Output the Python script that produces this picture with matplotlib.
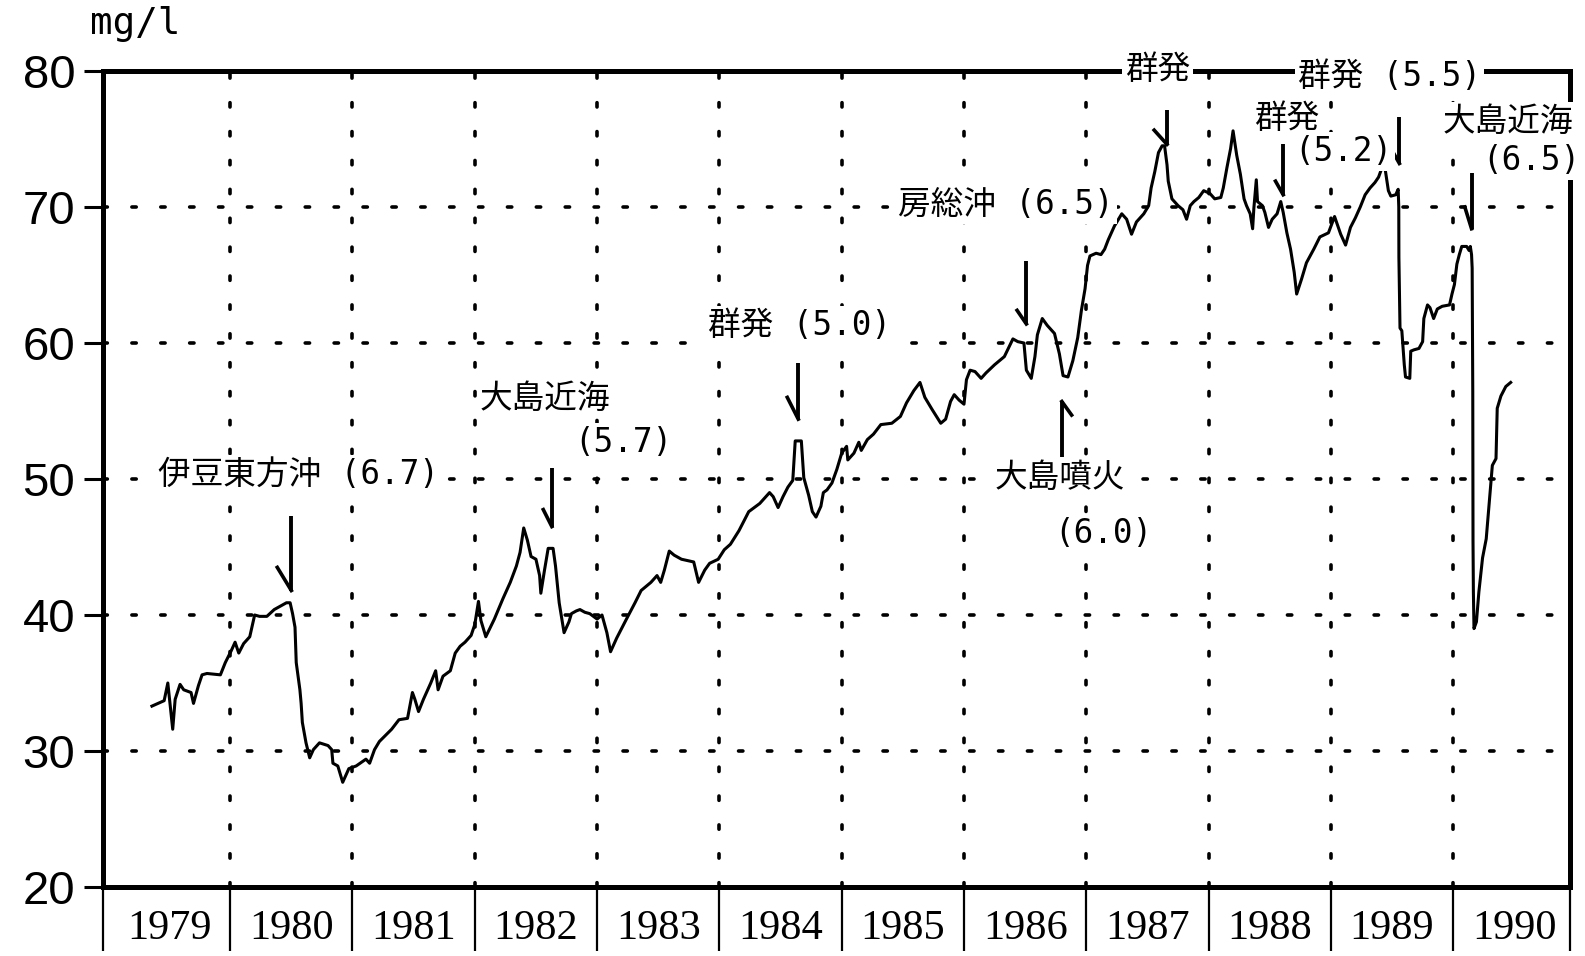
import matplotlib
matplotlib.use('Agg')
import matplotlib.pyplot as plt

# concentration record: decimal year, mg/l
t = [1979.36, 1979.46, 1979.49, 1979.51, 1979.53, 1979.55, 1979.59, 1979.62, 1979.68, 1979.70,
     1979.74, 1979.77, 1979.81, 1979.92, 1979.96, 1980.01, 1980.04, 1980.07, 1980.11, 1980.16,
     1980.20, 1980.24, 1980.30, 1980.36, 1980.46, 1980.49, 1980.51, 1980.53, 1980.54, 1980.57,
     1980.58, 1980.59, 1980.62, 1980.65, 1980.68, 1980.73, 1980.80, 1980.83, 1980.84, 1980.88,
     1980.92, 1980.97, 1981.03, 1981.11, 1981.14, 1981.18, 1981.22, 1981.32, 1981.38, 1981.45,
     1981.49, 1981.51, 1981.54, 1981.58, 1981.64, 1981.68, 1981.70, 1981.74, 1981.80, 1981.84,
     1981.88, 1981.92, 1981.97, 1982.00, 1982.03, 1982.05, 1982.09, 1982.16, 1982.23, 1982.29,
     1982.34, 1982.37, 1982.40, 1982.43, 1982.46, 1982.50, 1982.53, 1982.54, 1982.57, 1982.60,
     1982.64, 1982.66, 1982.69, 1982.73, 1982.77, 1982.79, 1982.83, 1982.86, 1982.90, 1982.94,
     1983.00, 1983.04, 1983.08, 1983.11, 1983.16, 1983.24, 1983.31, 1983.36, 1983.44, 1983.49,
     1983.52, 1983.55, 1983.59, 1983.63, 1983.69, 1983.79, 1983.83, 1983.88, 1983.92, 1983.99,
     1984.04, 1984.09, 1984.16, 1984.24, 1984.33, 1984.41, 1984.44, 1984.48, 1984.52, 1984.56,
     1984.60, 1984.62, 1984.67, 1984.69, 1984.73, 1984.76, 1984.79, 1984.83, 1984.85, 1984.88,
     1984.92, 1984.96, 1985.00, 1985.04, 1985.05, 1985.10, 1985.14, 1985.16, 1985.21, 1985.26,
     1985.32, 1985.41, 1985.48, 1985.53, 1985.59, 1985.64, 1985.68, 1985.74, 1985.81, 1985.85,
     1985.89, 1985.92, 1985.96, 1986.00, 1986.02, 1986.05, 1986.09, 1986.14, 1986.18, 1986.25,
     1986.33, 1986.40, 1986.44, 1986.49, 1986.51, 1986.55, 1986.58, 1986.60, 1986.64, 1986.68,
     1986.74, 1986.78, 1986.81, 1986.85, 1986.89, 1986.93, 1986.96, 1986.99, 1987.01, 1987.03,
     1987.08, 1987.12, 1987.15, 1987.18, 1987.23, 1987.29, 1987.33, 1987.37, 1987.41, 1987.47,
     1987.51, 1987.53, 1987.56, 1987.59, 1987.62, 1987.64, 1987.66, 1987.67, 1987.70, 1987.75,
     1987.79, 1987.82, 1987.85, 1987.88, 1987.92, 1987.96, 1988.01, 1988.05, 1988.10, 1988.12,
     1988.15, 1988.18, 1988.20, 1988.23, 1988.26, 1988.29, 1988.31, 1988.34, 1988.36, 1988.37,
     1988.39, 1988.40, 1988.44, 1988.46, 1988.49, 1988.52, 1988.56, 1988.59, 1988.61, 1988.64,
     1988.67, 1988.70, 1988.72, 1988.76, 1988.80, 1988.86, 1988.91, 1988.98, 1989.03, 1989.08,
     1989.12, 1989.16, 1989.20, 1989.24, 1989.28, 1989.32, 1989.36, 1989.39, 1989.41, 1989.43,
     1989.44, 1989.45, 1989.47, 1989.49, 1989.53, 1989.55, 1989.555, 1989.556, 1989.565, 1989.58,
     1989.60, 1989.61, 1989.645, 1989.653, 1989.68, 1989.72, 1989.75, 1989.76, 1989.79, 1989.81,
     1989.84, 1989.87, 1989.91, 1989.97, 1989.99, 1990.01, 1990.03, 1990.05, 1990.07, 1990.11,
     1990.13, 1990.14, 1990.15, 1990.155, 1990.16, 1990.162, 1990.165, 1990.17, 1990.19, 1990.21,
     1990.24, 1990.27, 1990.29, 1990.32, 1990.35, 1990.36, 1990.39, 1990.43, 1990.47]
conc = [33.3, 33.7, 35.0, 33.3, 31.6, 33.8, 34.9, 34.5, 34.3, 33.5,
        34.8, 35.6, 35.7, 35.6, 36.5, 37.4, 38.0, 37.2, 37.9, 38.4,
        40.0, 39.9, 39.9, 40.4, 40.9, 40.9, 40.1, 39.1, 36.5, 34.5,
        33.5, 32.1, 30.6, 29.5, 30.1, 30.6, 30.4, 30.1, 29.1, 28.9,
        27.7, 28.7, 28.9, 29.4, 29.1, 30.1, 30.7, 31.6, 32.3, 32.4,
        34.3, 33.8, 32.9, 33.8, 35.0, 35.9, 34.5, 35.5, 35.9, 37.2,
        37.7, 38.0, 38.5, 39.3, 41.0, 39.6, 38.4, 39.7, 41.2, 42.4,
        43.6, 44.6, 46.4, 45.5, 44.3, 44.1, 42.9, 41.6, 43.3, 44.9,
        44.9, 43.6, 40.9, 38.7, 39.5, 40.1, 40.3, 40.4, 40.2, 40.1,
        39.7, 40.0, 38.7, 37.3, 38.3, 39.7, 40.9, 41.8, 42.4, 42.9,
        42.4, 43.3, 44.7, 44.4, 44.1, 43.9, 42.4, 43.3, 43.8, 44.1,
        44.8, 45.2, 46.2, 47.6, 48.2, 49.0, 48.7, 47.9, 48.7, 49.4,
        49.9, 52.8, 52.8, 50.1, 48.8, 47.6, 47.2, 48.0, 49.0, 49.2,
        49.7, 50.7, 51.9, 52.4, 51.4, 51.9, 52.7, 52.1, 52.9, 53.3,
        54.0, 54.1, 54.6, 55.6, 56.5, 57.1, 56.0, 55.1, 54.1, 54.4,
        55.7, 56.2, 55.8, 55.5, 57.3, 58.0, 57.9, 57.4, 57.8, 58.4,
        59.0, 60.3, 60.1, 60.0, 58.0, 57.4, 59.0, 60.6, 61.8, 61.3,
        60.7, 59.2, 57.6, 57.5, 58.7, 60.4, 62.4, 64.0, 65.7, 66.4,
        66.6, 66.5, 66.9, 67.6, 68.6, 69.5, 69.1, 68.0, 68.9, 69.5,
        70.1, 71.4, 72.6, 74.0, 74.5, 74.5, 73.1, 71.9, 70.6, 70.1,
        69.8, 69.1, 70.1, 70.4, 70.7, 71.2, 71.0, 70.6, 70.7, 71.4,
        72.9, 74.3, 75.6, 73.8, 72.4, 70.6, 70.1, 69.5, 68.4, 69.9,
        72.0, 70.4, 70.1, 69.6, 68.5, 69.1, 69.5, 70.4, 69.6, 68.1,
        66.9, 65.2, 63.6, 64.7, 65.9, 66.9, 67.8, 68.1, 69.3, 68.0,
        67.2, 68.5, 69.2, 70.0, 70.9, 71.4, 71.8, 72.2, 72.7, 73.4,
        73.0, 72.4, 71.2, 70.8, 70.9, 71.3, 70.0, 66.3, 61.1, 60.9,
        58.4, 57.5, 57.4, 59.4, 59.5, 59.6, 60.1, 61.8, 62.8, 62.6,
        61.8, 62.5, 62.7, 62.8, 63.6, 64.3, 65.8, 66.5, 67.1, 67.1,
        66.8, 67.1, 66.5, 65.5, 56.4, 45.4, 41.7, 39.0, 39.5, 41.7,
        44.2, 45.6, 47.8, 51.0, 51.5, 55.2, 56.1, 56.8, 57.1]

years = list(range(1979, 1991))
year_labels = [str(y) for y in years]
yticks = [20, 30, 40, 50, 60, 70, 80]

# marked events: time of arrow, arrow tail value, arrow tip value
event_t    = [1980.50, 1982.63, 1984.645, 1986.51, 1986.80, 1987.66, 1988.61, 1989.56, 1990.15]
event_tail = [47.3, 50.8, 58.5, 66.0, 51.6, 77.1, 74.6, 76.6, 72.5]
event_tip  = [41.8, 46.5, 54.4, 61.4, 55.7, 74.6, 70.9, 73.2, 68.4]

# (x, y, text) of the labels
labels = [
    (1979.41, 50.3, '伊豆東方沖 (6.7)'),
    (1982.04, 55.9, '大島近海'),
    (1982.81, 52.7, '(5.7)'),
    (1983.91, 61.3, '群発 (5.0)'),
    (1985.46, 70.2, '房総沖 (6.5)'),
    (1986.25, 50.1, '大島噴火'),
    (1986.74, 46.0, '(6.0)'),
    (1987.315, 80.1, '群発'),
    (1988.37, 76.5, '群発'),
    (1988.70, 74.1, '(5.2)'),
    (1988.73, 79.6, '群発 (5.5)'),
    (1989.915, 76.3, '大島近海'),
    (1990.24, 73.4, '(6.5)'),
]
# barb offset from the arrow tip
barbs = [(-0.115, 1.7), (-0.07, 1.25), (-0.09, 1.6), (-0.076, 1.0), (0.08, -1.0),
         (-0.105, 1.05), (-0.063, 1.0), (-0.05, 0.8), (-0.055, 1.6)]

plt.rcParams['font.family'] = ['DejaVu Sans Mono', 'Noto Sans CJK JP']

x0, x1 = 1978.96, 1990.955

fig = plt.figure(figsize=(15.85, 9.56), dpi=100)
ax = fig.add_axes([103/1585, 1-887/956, 1467/1585, 816/956])

ax.plot(t, conc, color='black', lw=2.2, zorder=3)

for x, y0, y1, (bx, by) in zip(event_t, event_tail, event_tip, barbs):
    ax.plot([x, x], [y0, y1], color='black', lw=2.8, zorder=4, solid_capstyle='butt')
    ax.plot([x + bx, x], [y1 + by, y1], color='black', lw=2.6, zorder=4)

for x, y, s in labels:
    ax.text(x, y, s, fontsize=23.5, ha='left', va='center', zorder=5, clip_on=False,
            bbox=dict(facecolor='white', edgecolor='none', pad=2))

ax.set_xlim(x0, x1)
ax.set_ylim(20, 80)

ax.set_yticks(yticks)
ax.set_yticklabels([str(v) for v in yticks], family='Liberation Sans', fontsize=34)
ax.tick_params(axis='y', length=14, width=2.2, pad=6, direction='out')

ax.set_xticks([x0] + list(range(1980, 1991)) + [x1])
ax.set_xticklabels([])
ax.set_xticks([y + 0.5 for y in years], minor=True)
ax.set_xticklabels(year_labels, minor=True, family='Liberation Serif', fontsize=30.5)
ax.tick_params(axis='x', which='major', length=46, width=1.6, direction='out')
ax.tick_params(axis='x', which='minor', length=0, pad=16)

ax.grid(True, which='major', color='black', lw=2.6, linestyle=(0, (1.2, 6.8)),
        dash_capstyle='round', zorder=1)
ax.set_axisbelow(True)

for sp in ax.spines.values():
    sp.set_linewidth(3.6)

fig.text(90/1585, 1-34/956, 'mg/l', fontsize=27, family='DejaVu Sans Mono', va='baseline')

fig.savefig('out.png', dpi=100)
